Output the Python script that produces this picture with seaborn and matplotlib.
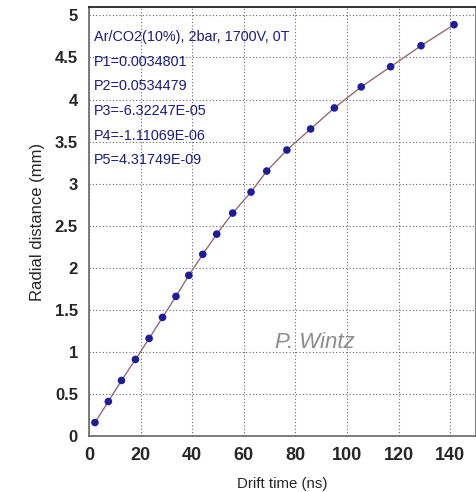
import matplotlib
matplotlib.use("Agg")
import matplotlib.pyplot as plt
import seaborn as sns
import pandas as pd
from matplotlib.ticker import MultipleLocator

drift_time = [2.3, 7.5, 12.6, 18.0, 23.3, 28.5, 33.7, 38.7, 44.1, 49.5,
              55.7, 62.8, 68.9, 76.7, 85.9, 95.1, 105.5, 116.9, 128.7, 141.5]
radial_distance = [0.16, 0.41, 0.66, 0.91, 1.16, 1.41, 1.66, 1.91, 2.16, 2.40,
                   2.65, 2.90, 3.15, 3.40, 3.65, 3.90, 4.15, 4.39, 4.64, 4.89]

x_ticks = [0, 20, 40, 60, 80, 100, 120, 140]
y_ticks = [0, 0.5, 1, 1.5, 2, 2.5, 3, 3.5, 4, 4.5, 5]
y_tick_labels = ["0", "0.5", "1", "1.5", "2", "2.5", "3", "3.5", "4", "4.5", "5"]

info_lines = ["Ar/CO2(10%), 2bar, 1700V, 0T",
              "P1=0.0034801",
              "P2=0.0534479",
              "P3=-6.32247E-05",
              "P4=-1.11069E-06",
              "P5=4.31749E-09"]

sns.set_style("white")
plt.rcParams['font.family'] = ['Liberation Sans', 'DejaVu Sans']

df = pd.DataFrame({"t": drift_time, "r": radial_distance})

fig = plt.figure(figsize=(4.77, 4.92), dpi=100)
ax = fig.add_axes([89/477, 1 - 436/492, 387/477, 429/492])

sns.lineplot(data=df, x="t", y="r", ax=ax, color="#9a6a6a", linewidth=1.0,
             zorder=2)
sns.scatterplot(data=df, x="t", y="r", ax=ax, color="#1c1c9c", s=30,
                edgecolor="none", zorder=3)

ax.set_xlim(0, 150)
ax.set_ylim(0, 5.1)
ax.set_xticks(x_ticks)
ax.set_xticklabels([str(v) for v in x_ticks])
ax.set_yticks(y_ticks)
ax.set_yticklabels(y_tick_labels)
ax.xaxis.set_minor_locator(MultipleLocator(5))
ax.yaxis.set_minor_locator(MultipleLocator(0.1))

ax.grid(True, which="major", color="#666666", linestyle=(0, (1, 2)), linewidth=0.8)
ax.tick_params(axis="x", which="major", direction="in", length=8, width=1,
               color="#555555", labelsize=13, pad=8)
ax.tick_params(axis="x", which="minor", direction="in", length=4, width=1,
               color="#555555")
ax.tick_params(axis="y", which="major", direction="out", length=6, width=1,
               color="#555555", labelsize=12, pad=2)
ax.tick_params(axis="y", which="minor", direction="out", length=3, width=1,
               color="#555555")
for lab in ax.get_xticklabels() + ax.get_yticklabels():
    lab.set_fontweight("bold")

for side in ["left", "bottom", "right"]:
    ax.spines[side].set_color("#666666")
    ax.spines[side].set_linewidth(1.2)
ax.spines["top"].set_color("#111111")
ax.spines["top"].set_linewidth(1.2)

ax.set_xlabel("Drift time (ns)", fontsize=10.8, labelpad=9)
ax.set_ylabel("Radial distance (mm)", fontsize=12, labelpad=7)

y_px = [37, 62, 86, 111, 136, 160]
for txt, yp in zip(info_lines, y_px):
    fig.text(94/477, 1 - yp/492, txt, color="#1c1c80", fontsize=10.4,
             ha="left", va="center")

fig.text(275/477, 1 - 342/492, "P. Wintz", color="#8c8c8c", fontsize=16,
         style="italic", ha="left", va="center")

fig.savefig("out.png", dpi=100)
